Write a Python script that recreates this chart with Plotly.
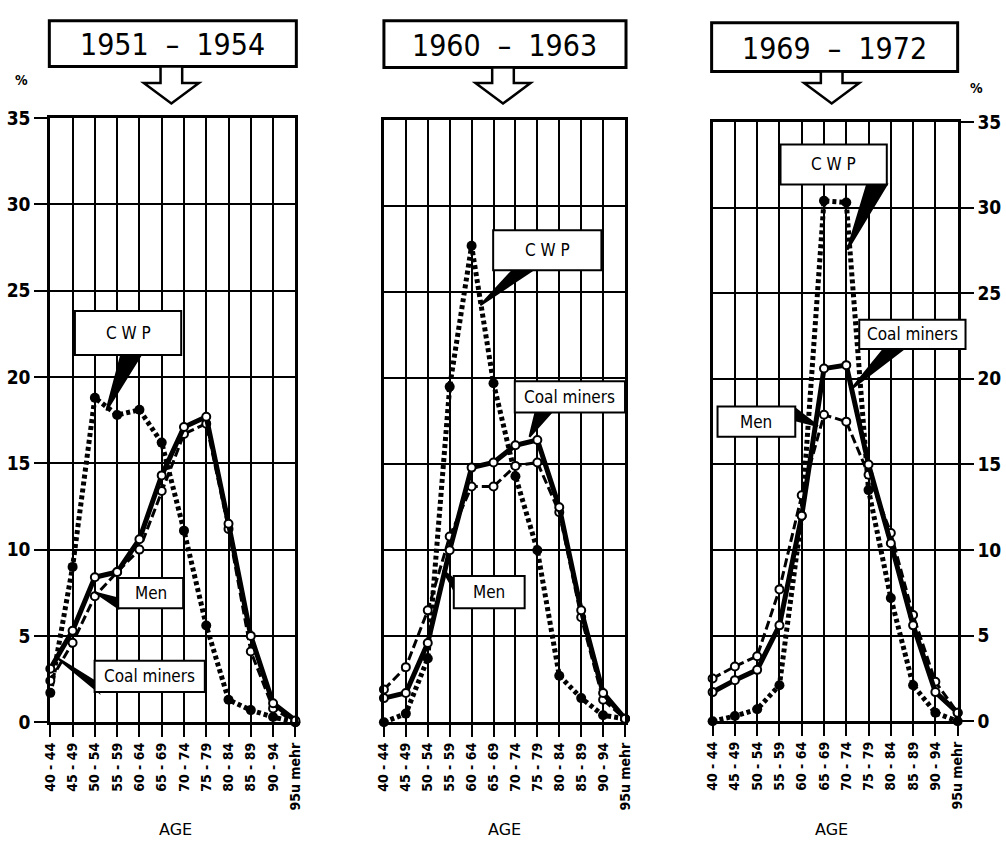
import plotly.graph_objects as go

W, H = 1006, 854

# ---------------- data ----------------
age_groups = ["40 - 44", "45 - 49", "50 - 54", "55 - 59", "60 - 64", "65 - 69",
              "70 - 74", "75 - 79", "80 - 84", "85 - 89", "90 - 94", "95u mehr"]
y_ticks = [0, 5, 10, 15, 20, 25, 30, 35]
period_labels = ["1951  \u2013  1954", "1960  \u2013  1963", "1969  \u2013  1972"]

cwp_1951 = [1.7, 9.0, 18.8, 17.8, 18.1, 16.2, 11.1, 5.6, 1.3, 0.7, 0.3, 0.0]
coal_1951 = [3.1, 5.3, 8.4, 8.7, 10.6, 14.3, 17.1, 17.7, 11.5, 5.0, 1.1, 0.1]
men_1951 = [2.4, 4.6, 7.3, 8.7, 10.0, 13.4, 16.7, 17.3, 11.2, 4.1, 0.8, 0.0]

cwp_1960 = [0.0, 0.5, 3.7, 19.5, 27.7, 19.7, 14.3, 10.0, 2.7, 1.4, 0.4, 0.2]
coal_1960 = [1.4, 1.7, 4.6, 10.0, 14.8, 15.1, 16.1, 16.4, 12.5, 6.5, 1.7, 0.2]
men_1960 = [1.9, 3.2, 6.5, 10.8, 13.7, 13.7, 14.9, 15.1, 12.2, 6.1, 1.3, 0.2]

cwp_1969 = [0.0, 0.3, 0.7, 2.1, 12.0, 30.4, 30.3, 13.5, 7.2, 2.1, 0.5, 0.0]
coal_1969 = [1.7, 2.4, 3.0, 5.6, 12.0, 20.6, 20.8, 15.0, 10.4, 5.6, 1.7, 0.5]
men_1969 = [2.5, 3.2, 3.8, 7.7, 13.2, 17.9, 17.5, 14.4, 11.0, 6.2, 2.3, 0.5]

# ---------------- layout geometry (pixels) ----------------
panels = [
    dict(cwp=cwp_1951, coal=coal_1951, men=men_1951, x0=43, x1=292, yt=110, yb=730,
         yside="left", box=(42, 10, 293, 57), arrow_cx=166,
         age_x=170,
         callouts=[
             dict(text="C W P", box=(68, 308, 176, 353), wedge=[(115, 353), (135, 353), (100, 410)]),
             dict(text="Men", box=(112, 582, 178, 613), wedge=[(112, 603), (112, 613), (89, 597)]),
             dict(text="Coal miners", box=(88, 667, 200, 699), wedge=[(88, 688), (92, 699), (50, 664)]),
         ]),
    dict(cwp=cwp_1960, coal=coal_1960, men=men_1960, x0=382, x1=627, yt=112, yb=730,
         yside=None, box=(382, 10, 628, 58), arrow_cx=503,
         age_x=505,
         callouts=[
             dict(text="C W P", box=(493, 225, 603, 266), wedge=[(513, 266), (533, 266), (480, 302)]),
             dict(text="Coal miners", box=(515, 380, 627, 412), wedge=[(536, 412), (552, 412), (530, 437)]),
             dict(text="Men", box=(453, 580, 525, 613), wedge=[(453, 583), (453, 594), (442, 574)]),
         ]),
    dict(cwp=cwp_1969, coal=coal_1969, men=men_1969, x0=716, x1=965, yt=114, yb=729,
         yside="right", box=(715, 12, 965, 62), arrow_cx=837,
         age_x=837,
         callouts=[
             dict(text="C W P", box=(785, 137, 893, 178), wedge=[(873, 178), (893, 178), (853, 245)]),
             dict(text="Coal miners", box=(865, 317, 973, 347), wedge=[(890, 347), (910, 347), (857, 388)]),
             dict(text="Men", box=(721, 406, 800, 437), wedge=[(800, 408), (800, 420), (823, 426)]),
         ]),
]


def fx(x):
    return x / W


def fy(y):
    return 1 - y / H


FONT = "DejaVu Sans Condensed, DejaVu Sans, sans-serif"

fig = go.Figure()
shapes = []
annotations = []
xs = list(range(len(age_groups)))
tick_text = [t.replace(" ", "\u00a0") for t in age_groups]

for i, p in enumerate(panels):
    n = "" if i == 0 else str(i + 1)
    xa, ya = "x" + n, "y" + n
    # CWP: dotted line, filled dots
    fig.add_trace(go.Scatter(
        x=xs, y=p["cwp"], mode="lines+markers", name="CWP", xaxis=xa, yaxis=ya,
        line=dict(color="black", width=5, dash="4px,3px"),
        marker=dict(symbol="circle", size=10, color="black"),
        cliponaxis=False, showlegend=False))
    # Men: dashed line, open circles
    fig.add_trace(go.Scatter(
        x=xs, y=p["men"], mode="lines+markers", name="Men", xaxis=xa, yaxis=ya,
        line=dict(color="black", width=3, dash="9px,4px"),
        marker=dict(symbol="circle", size=8, color="white", line=dict(color="black", width=2)),
        cliponaxis=False, showlegend=False))
    # Coal miners: thick solid line, open circles
    fig.add_trace(go.Scatter(
        x=xs, y=p["coal"], mode="lines+markers", name="Coal miners", xaxis=xa, yaxis=ya,
        line=dict(color="black", width=5),
        marker=dict(symbol="circle", size=8, color="white", line=dict(color="black", width=2)),
        cliponaxis=False, showlegend=False))

    xaxis = dict(
        domain=[fx(p["x0"]), fx(p["x1"])], range=[0, len(age_groups) - 1],
        tickmode="array", tickvals=xs, ticktext=tick_text, tickangle=-90,
        tickfont=dict(family=FONT, size=14, color="black", weight="bold"),
        showgrid=True, gridcolor="black", gridwidth=2,
        showline=True, linecolor="black", linewidth=3, mirror=True,
        ticks="outside", ticklen=12, tickwidth=2, tickcolor="black",
        zeroline=False, anchor=ya, fixedrange=True)
    yaxis = dict(
        domain=[fy(p["yb"]), fy(p["yt"])], range=[0, 35],
        tickmode="array", tickvals=y_ticks,
        tickfont=dict(family=FONT, size=19, color="black", weight="bold"),
        showgrid=True, gridcolor="black", gridwidth=2,
        showline=True, linecolor="black", linewidth=3, mirror=True,
        zeroline=False, anchor=xa, fixedrange=True)
    if p["yside"] is None:
        yaxis.update(ticks="", showticklabels=False)
    else:
        yaxis.update(side=p["yside"], ticks="outside", ticklen=13, tickwidth=2,
                     tickcolor="black", showticklabels=True)
    fig.update_layout(**{"xaxis" + n: xaxis, "yaxis" + n: yaxis})

    # header box
    bx0, by0, bx1, by1 = p["box"]
    shapes.append(dict(type="rect", xref="paper", yref="paper",
                       x0=fx(bx0), x1=fx(bx1), y0=fy(by1), y1=fy(by0),
                       line=dict(color="black", width=3), fillcolor="white"))
    annotations.append(dict(xref="paper", yref="paper", x=fx((bx0 + bx1) / 2), y=fy((by0 + by1) / 2 + 1),
                            text=period_labels[i], showarrow=False,
                            font=dict(family=FONT, size=30, color="black"),
                            xanchor="center", yanchor="middle"))
    # hollow arrow under header
    c = p["arrow_cx"]
    pts = [(c - 11, by1), (c + 11, by1), (c + 11, 74), (c + 28, 74), (c, 95),
           (c - 28, 74), (c - 11, 74)]
    path = "M " + " L ".join(f"{fx(a):.5f},{fy(b):.5f}" for a, b in pts) + " Z"
    shapes.append(dict(type="path", xref="paper", yref="paper", path=path,
                       line=dict(color="black", width=2.5), fillcolor="white"))

    # callouts
    for co in p["callouts"]:
        path = "M " + " L ".join(f"{fx(a):.5f},{fy(b):.5f}" for a, b in co["wedge"]) + " Z"
        shapes.append(dict(type="path", xref="paper", yref="paper", path=path,
                           line=dict(color="black", width=2), fillcolor="black", layer="above"))
    for co in p["callouts"]:
        cx0, cy0, cx1, cy1 = co["box"]
        shapes.append(dict(type="rect", xref="paper", yref="paper",
                           x0=fx(cx0), x1=fx(cx1), y0=fy(cy1), y1=fy(cy0),
                           line=dict(color="black", width=2), fillcolor="white", layer="above"))
        annotations.append(dict(xref="paper", yref="paper", x=fx((cx0 + cx1) / 2), y=fy((cy0 + cy1) / 2),
                                text=co["text"], showarrow=False,
                                font=dict(family=FONT, size=17, color="black"),
                                xanchor="center", yanchor="middle"))

    # AGE label
    annotations.append(dict(xref="paper", yref="paper", x=fx(p["age_x"]), y=fy(840),
                            text="AGE", showarrow=False,
                            font=dict(family="DejaVu Sans, sans-serif", size=16, color="black"),
                            xanchor="center", yanchor="middle"))

# percent signs
annotations.append(dict(xref="paper", yref="paper", x=fx(14), y=fy(71), text="%", showarrow=False,
                        font=dict(family=FONT, size=14, color="black", weight="bold"),
                        xanchor="center", yanchor="middle"))
annotations.append(dict(xref="paper", yref="paper", x=fx(984), y=fy(79), text="%", showarrow=False,
                        font=dict(family=FONT, size=14, color="black", weight="bold"),
                        xanchor="center", yanchor="middle"))

fig.update_layout(
    width=W, height=H, margin=dict(l=0, r=0, t=0, b=0),
    paper_bgcolor="white", plot_bgcolor="white",
    shapes=shapes, annotations=annotations, showlegend=False,
)

fig.write_html("out.html", config={"displayModeBar": False})
